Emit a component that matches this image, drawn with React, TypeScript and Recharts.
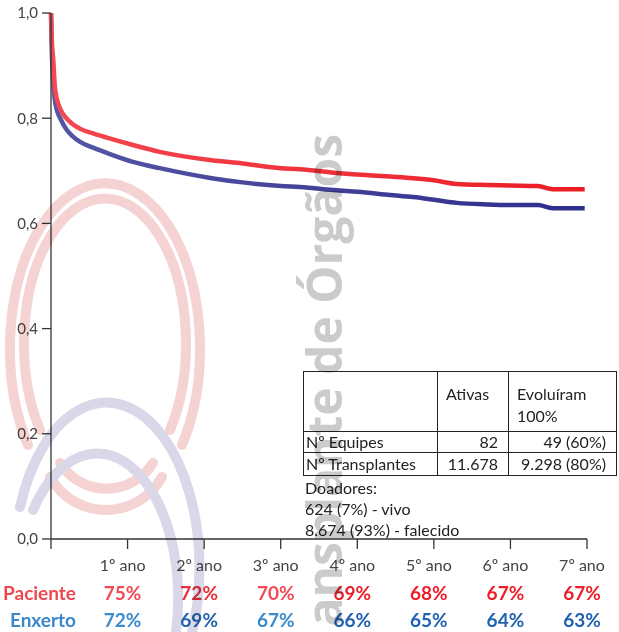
import React from 'react';
import { LineChart, Line, XAxis, YAxis } from 'recharts';

// ---- data ----
const years = [0, 0.01, 0.03, 0.05, 0.08, 0.12, 0.2, 0.28, 0.38, 0.55, 0.73, 1.07, 1.42, 2.1, 2.5, 3.0, 3.25, 3.73, 4.0, 4.43, 4.73, 5.0, 5.3, 5.7, 6.0, 6.36, 6.55, 6.97];
const paciente = [1.0, 0.95, 0.91, 0.86, 0.835, 0.818, 0.8, 0.789, 0.78, 0.771, 0.763, 0.749, 0.736, 0.72, 0.714, 0.705, 0.703, 0.696, 0.693, 0.689, 0.686, 0.682, 0.675, 0.673, 0.672, 0.671, 0.665, 0.665];
const enxerto = [1.0, 0.93, 0.867, 0.835, 0.814, 0.8, 0.779, 0.766, 0.755, 0.744, 0.734, 0.717, 0.705, 0.686, 0.678, 0.671, 0.669, 0.663, 0.66, 0.654, 0.65, 0.645, 0.639, 0.636, 0.635, 0.635, 0.629, 0.629];

const xTicks = [0, 1, 2, 3, 4, 5, 6, 7];
const yearLabels = ['', '1º ano', '2º ano', '3º ano', '4º ano', '5º ano', '6º ano', '7º ano'];
const yTicks = [0, 0.2, 0.4, 0.6, 0.8, 1.0];
const pacientePct = [75, 72, 70, 69, 68, 67, 67];
const enxertoPct = [72, 69, 67, 66, 65, 64, 63];

const tableHeader = ['', 'Ativas', 'Evoluíram', '100%'];
const tableRows = [
  ['Nº Equipes', '82', '49 (60%)'],
  ['Nº Transplantes', '11.678', '9.298 (80%)'],
];
const doadores = ['Doadores:', '624 (7%) - vivo', '8.674 (93%) - falecido'];
const watermark = 'ansplante de Órgãos';

const data = years.map((t, i) => ({ t, paciente: paciente[i], enxerto: enxerto[i] }));

// ---- styles ----
const FONT = 'Lato, "Open Sans", sans-serif';
const redPctColors = ['#f24b56', '#e8303b', '#f24b56', '#ec1f28', '#ec1f28', '#ec1f28', '#ec1f28'];
const bluePctColors = ['#3a8bd0', '#2565b0', '#3a8bd0', '#1f63b0', '#1f63b0', '#1f63b0', '#1f63b0'];

const XTick = (props: any) => {
  const { x, y, payload } = props;
  const i = payload.value as number;
  if (i === 0) {
    return (
      <g fontFamily={FONT} fontWeight={700} fontSize={19}>
        <text x={x + 25} y={y + 49} textAnchor="end" fill="#f0464f">Paciente</text>
        <text x={x + 25} y={y + 76} textAnchor="end" fill="#3a87cc">Enxerto</text>
      </g>
    );
  }
  return (
    <g fontFamily={FONT}>
      <text x={x - 5} y={y + 20} textAnchor="middle" fontSize={16} fill="#444">{yearLabels[i]}</text>
      <text x={x - 5} y={y + 49} textAnchor="middle" fontSize={19} fontWeight={700} fill={redPctColors[i - 1]}>{pacientePct[i - 1]}%</text>
      <text x={x - 5} y={y + 76} textAnchor="middle" fontSize={19} fontWeight={700} fill={bluePctColors[i - 1]}>{enxertoPct[i - 1]}%</text>
    </g>
  );
};

const cell: React.CSSProperties = { border: '1px solid #222', padding: 0 };

export default function App() {
  return (
    <div style={{ position: 'absolute', left: 0, top: 0, width: 619, height: 632, overflow: 'hidden', background: '#fff', fontFamily: FONT }}>
      <svg width={0} height={0} style={{ position: 'absolute' }}>
        <defs>
          <linearGradient id="gradRed" x1="0" y1="0" x2="1" y2="0">
            <stop offset="0%" stopColor="#f34852" />
            <stop offset="100%" stopColor="#ec1c24" />
          </linearGradient>
          <linearGradient id="gradBlue" x1="0" y1="0" x2="1" y2="0">
            <stop offset="0%" stopColor="#5656a6" />
            <stop offset="100%" stopColor="#2d2d8c" />
          </linearGradient>
        </defs>
      </svg>
      <div style={{ position: 'absolute', left: 0, top: 0 }}>
        <LineChart width={619} height={632} data={data} margin={{ top: 13, right: 32, left: 0, bottom: 0 }}>
          <XAxis
            dataKey="t"
            type="number"
            domain={[0, 7]}
            ticks={xTicks}
            interval={0}
            height={93}
            tickSize={10}
            tickMargin={2}
            axisLine={{ stroke: '#333', strokeWidth: 1.3 }}
            tickLine={{ stroke: '#333', strokeWidth: 1.3 }}
            tick={(p: any) => <XTick {...p} />}
          />
          <YAxis
            type="number"
            domain={[0, 1]}
            ticks={yTicks}
            interval={0}
            width={51}
            tickSize={9}
            tickMargin={4}
            axisLine={{ stroke: '#333', strokeWidth: 1.3 }}
            tickLine={{ stroke: '#333', strokeWidth: 1.3 }}
            tick={{ fill: '#444', fontSize: 15, fontFamily: FONT }}
            tickFormatter={(v: number) => v.toFixed(1).replace('.', ',')}
          />
          <Line dataKey="enxerto" type="monotone" stroke="url(#gradBlue)" strokeWidth={4.5} dot={false} activeDot={false} isAnimationActive={false} strokeLinejoin="round" />
          <Line dataKey="paciente" type="monotone" stroke="url(#gradRed)" strokeWidth={4.5} dot={false} activeDot={false} isAnimationActive={false} strokeLinejoin="round" />
        </LineChart>
      </div>

      <table style={{ position: 'absolute', left: 303, top: 371, borderCollapse: 'collapse', tableLayout: 'fixed', width: 313, fontSize: 16, color: '#222', fontFamily: FONT }}>
        <colgroup>
          <col style={{ width: 134 }} />
          <col style={{ width: 71 }} />
          <col style={{ width: 108 }} />
        </colgroup>
        <tbody>
          <tr style={{ height: 60 }}>
            <td style={cell}>{tableHeader[0]}</td>
            <td style={{ ...cell, verticalAlign: 'top', paddingTop: 11, paddingLeft: 8, lineHeight: '22px' }}>{tableHeader[1]}</td>
            <td style={{ ...cell, verticalAlign: 'top', paddingTop: 11, paddingLeft: 8, lineHeight: '22px' }}>
              {tableHeader[2]}<br />{tableHeader[3]}
            </td>
          </tr>
          {tableRows.map((r, i) => (
            <tr key={i} style={{ height: i === 0 ? 21 : 23 }}>
              <td style={{ ...cell, paddingLeft: 2, lineHeight: '20px', whiteSpace: 'nowrap' }}>{r[0]}</td>
              <td style={{ ...cell, textAlign: 'right', paddingRight: 10, lineHeight: '20px' }}>{r[1]}</td>
              <td style={{ ...cell, textAlign: 'right', paddingRight: 10, lineHeight: '20px' }}>{r[2]}</td>
            </tr>
          ))}
        </tbody>
      </table>
      <div style={{ position: 'absolute', left: 305, top: 477, fontSize: 16, lineHeight: '21px', color: '#222' }}>
        {doadores.map((d, i) => (
          <div key={i}>{d}</div>
        ))}
      </div>

      <svg width={619} height={632} style={{ position: 'absolute', left: 0, top: 0, mixBlendMode: 'multiply', pointerEvents: 'none' }}>
        <g fill="none" strokeWidth={10} strokeLinecap="round">
          <path d="M 28 445 A 95 165 0 1 1 182 445" stroke="#f6d3d3" />
          <path d="M 40 430 A 81 145 0 1 1 170 430" stroke="#f6d3d3" />
          <path d="M 50 477 A 64 64 0 0 0 162 477" stroke="#f6d3d3" />
          <path d="M 60 463 A 55 55 0 0 0 153 463" stroke="#f6d3d3" />
          <path d="M 20 507 A 93 165 0 1 1 162 700" stroke="#d9d7e8" />
          <path d="M 33 510 A 81 145 0 1 1 155 700" stroke="#d9d7e8" />
          <path d="M 20 800 A 95 165 0 0 1 194 800" stroke="#f6d3d3" />
        </g>
        <text
          x={342}
          y={134}
          transform="rotate(-90 342 134)"
          textAnchor="end"
          fontFamily='"Open Sans", sans-serif'
          fontWeight={700}
          fontSize={48}
          fill="#cbcbcb"
        >
          {watermark}
        </text>
      </svg>
    </div>
  );
}
